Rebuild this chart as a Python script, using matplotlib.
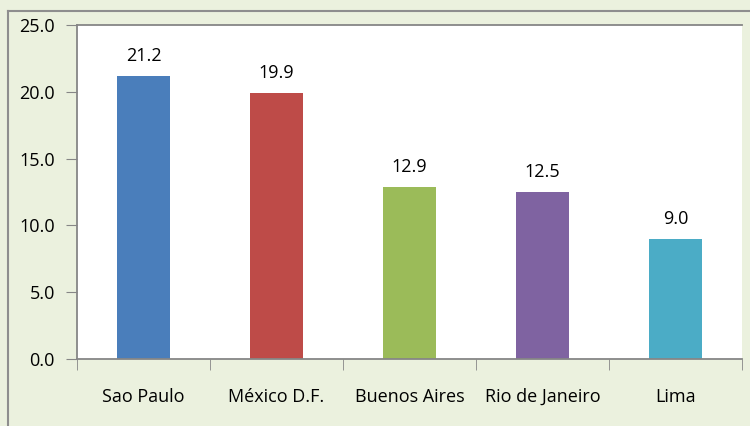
import matplotlib.pyplot as plt
from matplotlib.lines import Line2D
import numpy as np

# Data
cities = ["Sao Paulo", "México D.F.", "Buenos Aires", "Rio de Janeiro", "Lima"]
values = [21.2, 19.9, 12.9, 12.5, 9.0]
colors = ["#4A7EBB", "#BE4B48", "#9BBB59", "#7F63A1", "#4BACC6"]
yticks = [0, 5, 10, 15, 20, 25]

plt.rcParams['font.family'] = ['Open Sans', 'DejaVu Sans']
fs = 13

fig = plt.figure(figsize=(7.5, 4.26), dpi=100, facecolor="#EBF1DE")
ax = fig.add_axes([77/750, 67/426, 665/750, 334/426])

x = np.arange(len(cities))
ax.bar(x, values, width=0.4, color=colors, zorder=2)
for xi, v in zip(x, values):
    ax.text(xi, v + 0.8, f"{v:.1f}", ha="center", va="bottom", fontsize=fs)

ax.set_xlim(-0.5, len(cities) - 0.5)
ax.set_ylim(0, 25)
ax.set_yticks(yticks)
ax.set_yticklabels([f"{t:.1f}" for t in yticks], fontsize=fs)
ax.set_xticks(x)
ax.set_xticklabels(cities, fontsize=fs)
ax.set_xticks(np.arange(len(cities) + 1) - 0.5, minor=True)
ax.tick_params(axis="x", which="major", length=0, pad=21)
ax.tick_params(axis="x", which="minor", length=8, color="#868686", direction="out")
ax.tick_params(axis="y", length=8, color="#868686", direction="out", pad=8)

for side in ["left", "bottom", "top"]:
    ax.spines[side].set_color("#868686")
    ax.spines[side].set_linewidth(1.3)
ax.spines["right"].set_visible(False)

# outer chart border (left and top edges visible)
fig.add_artist(Line2D([8/750, 8/750], [0, 1 - 11/426], color="#8E8E8E", lw=1.5))
fig.add_artist(Line2D([8/750, 1], [1 - 11/426, 1 - 11/426], color="#8E8E8E", lw=1.5))

fig.savefig("out.png", dpi=100, facecolor=fig.get_facecolor())
